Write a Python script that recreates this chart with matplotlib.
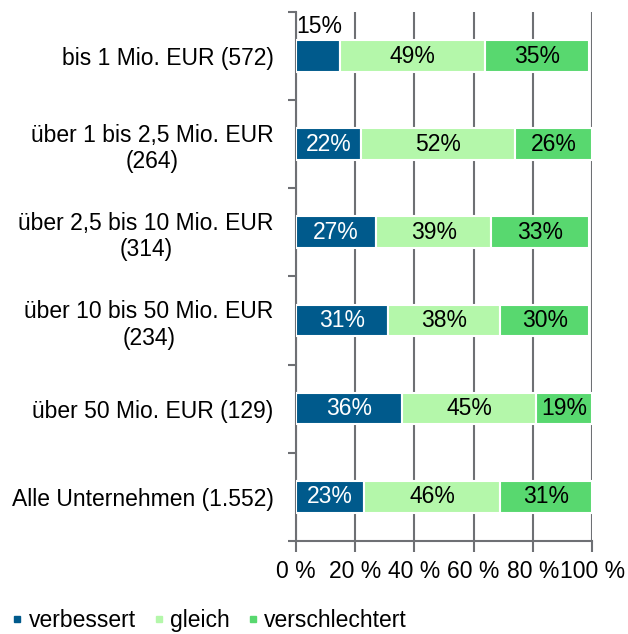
import numpy as np
import matplotlib
matplotlib.use('Agg')
import matplotlib.pyplot as plt
from matplotlib.lines import Line2D

plt.rcParams['font.family'] = ['Liberation Sans', 'DejaVu Sans']

categories = ['bis 1 Mio. EUR (572)',
              'über 1 bis 2,5 Mio. EUR\n(264)',
              'über 2,5 bis 10 Mio. EUR\n(314)',
              'über 10 bis 50 Mio. EUR\n(234)',
              'über 50 Mio. EUR (129)',
              'Alle Unternehmen (1.552)']
verbessert = [15, 22, 27, 31, 36, 23]
gleich = [49, 52, 39, 38, 45, 46]
verschlechtert = [35, 26, 33, 30, 19, 31]
series_names = ['verbessert', 'gleich', 'verschlechtert']
xticks = [0, 20, 40, 60, 80, 100]

colors = ['#005a8c', '#b4f7aa', '#58d86f']
text_colors = ['white', 'black', 'black']
FS = 16.5

fig = plt.figure(figsize=(6.28, 6.34), dpi=100)
ax = fig.add_axes([0.471, 0.147, 0.472, 0.834])

y = np.arange(len(categories))
left = np.zeros(len(categories))
for vals, col, tcol in zip([verbessert, gleich, verschlechtert], colors, text_colors):
    vals = np.array(vals, dtype=float)
    bars = ax.barh(y, vals, left=left, height=0.36, color=col,
                   edgecolor='white', linewidth=1.5, zorder=3)
    for i, v in enumerate(vals):
        if v < 18:
            # label does not fit -> above the bar
            ax.text(left[i] + 0.3, y[i] - 0.2, '%d%%' % v, ha='left', va='bottom',
                    fontsize=FS, color='black', zorder=4)
        else:
            ax.text(left[i] + v / 2, y[i], '%d%%' % v, ha='center', va='center',
                    fontsize=FS, color=tcol, zorder=4)
    left += vals

ax.set_xlim(0, 100)
ax.set_ylim(len(categories) - 0.5, -0.5)
ax.set_xticks(xticks)
ax.set_xticklabels(['%d %%' % t for t in xticks], fontsize=FS)
ax.set_yticks(y)
ax.set_yticklabels(categories, fontsize=FS, multialignment='center')
ax.set_yticks(np.arange(-0.5, len(categories), 1), minor=True)
ax.tick_params(axis='y', which='major', length=0, pad=16)
ax.tick_params(axis='y', which='minor', length=6, width=1.5, color='#6e7074')
ax.tick_params(axis='x', length=8, width=1.5, color='#6e7074', pad=6)

ax.grid(axis='x', color='#6e7074', linewidth=1.5, zorder=0)
ax.set_axisbelow(True)
for s in ['top', 'right']:
    ax.spines[s].set_visible(False)
for s in ['left', 'bottom']:
    ax.spines[s].set_color('#6e7074')
    ax.spines[s].set_linewidth(1.5)

handles = [Line2D([], [], marker='s', linestyle='none', markersize=5,
                  markerfacecolor=c, markeredgecolor=c) for c in colors]
fig.legend(handles, series_names, loc='lower left', bbox_to_anchor=(-0.02, -0.03),
           ncol=3, frameon=False, fontsize=FS, handletextpad=0.1,
           columnspacing=0.6, handlelength=0.8)

fig.savefig('out.png', dpi=100)
